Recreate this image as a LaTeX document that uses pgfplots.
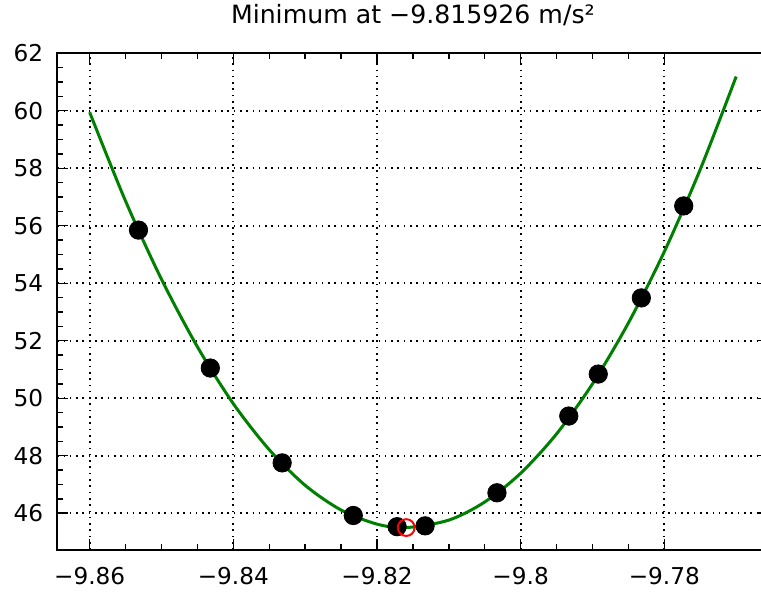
\documentclass[border=0pt]{standalone}
\usepackage{fontspec}
\setmainfont{DejaVu Sans}
\usepackage{pgfplots}
\pgfplotsset{compat=1.18}
\definecolor{fitgreen}{RGB}{0,128,0}

\begin{document}
\begin{tikzpicture}[font=\fontsize{11.6}{13.9}\selectfont]
\begin{axis}[
    scale only axis,
    width=355.6pt, height=248.35pt,
    xmin=-9.8645, xmax=-9.7655,
    ymin=44.72, ymax=62,
    xtick={-9.86,-9.84,-9.82,-9.80,-9.78},
    xticklabels={−9.86,−9.84,−9.82,−9.8,−9.78},
    ytick={46,48,...,62},
    minor x tick num=3, minor y tick num=3,
    tick align=inside,
    major tick length=5.25pt, minor tick length=3pt,
    tick style={black, line width=0.7pt},
    axis line style={line width=0.8pt},
    grid=major,
    major grid style={black, line width=0.9pt, dash pattern=on 0.8pt off 2.35pt},
    title={Minimum at −9.815926 m/s²},
    title style={at={(0.5,1)}, anchor=base, yshift=8.9pt, font=\fontsize{12.6}{15}\selectfont},
    xticklabel style={anchor=base, yshift=-17.5pt},
    yticklabel style={xshift=-3.6pt},
    /pgf/number format/assume math mode=true,
]
\coordinate (sw) at (rel axis cs:0,0);
% measured points
\addplot[only marks, mark=*, mark size=4.6pt, black] coordinates {
    (-9.8532,55.85) (-9.8432,51.05) (-9.8332,47.75) (-9.8233,45.92)
    (-9.8172,45.53) (-9.8133,45.56) (-9.8033,46.71) (-9.7933,49.38)
    (-9.7892,50.84) (-9.7832,53.49) (-9.7773,56.69)
};
% quadratic fit
\addplot[fitgreen, line width=1.5pt, smooth] coordinates {
    (-9.860,59.95) (-9.855,56.86) (-9.850,54.14) (-9.845,51.79)
    (-9.840,49.81) (-9.835,48.21) (-9.830,46.97) (-9.825,46.11)
    (-9.820,45.62) (-9.815926,45.50) (-9.810,45.76) (-9.805,46.39)
    (-9.800,47.39) (-9.795,48.76) (-9.790,50.50) (-9.785,52.62)
    (-9.780,55.10) (-9.775,57.96) (-9.770,61.19)
};
% minimum
\addplot[only marks, mark=o, mark size=4.2pt, red, line width=1pt] coordinates {(-9.815926,45.50)};
\end{axis}
\pgfresetboundingbox
\path[use as bounding box] (sw) ++(-28.65pt,-21pt) rectangle ++(380.5pt,296pt);
\end{tikzpicture}
\end{document}
